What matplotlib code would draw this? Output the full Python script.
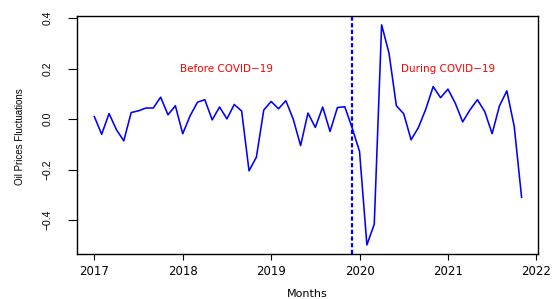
import matplotlib
matplotlib.use("Agg")
import matplotlib.pyplot as plt
import numpy as np

start_year = 2017
values = [0.010, -0.060, 0.022, -0.042, -0.086, 0.026, 0.033, 0.044, 0.044, 0.087, 0.017, 0.053,
          -0.058, 0.013, 0.067, 0.077, -0.003, 0.048, 0.001, 0.058, 0.032, -0.205, -0.151, 0.036,
          0.070, 0.041, 0.073, 0.000, -0.105, 0.024, -0.033, 0.048, -0.049, 0.046, 0.049, -0.035,
          -0.128, -0.499, -0.417, 0.374, 0.262, 0.053, 0.021, -0.082, -0.033, 0.040, 0.129, 0.085,
          0.119, 0.063, -0.011, 0.037, 0.077, 0.030, -0.058, 0.053, 0.112, -0.029, -0.310]
covid_line = 2019 + 11 / 12
xticks = [2017, 2018, 2019, 2020, 2021, 2022]
yticks = [-0.4, -0.2, 0.0, 0.2, 0.4]
ytick_labels = ["-0.4", "-0.2", "0.0", "0.2", "0.4"]
annotations = [("Before COVID\u221219", 2018.5, 0.2), ("During COVID\u221219", 2021.0, 0.2)]

t = start_year + np.arange(len(values)) / 12.0

fig = plt.figure(figsize=(5.6, 2.99), dpi=100)
ax = fig.add_axes([77 / 560, 1 - 254 / 299, (538 - 77) / 560, (254 - 16) / 299])
ax.plot(t, values, color="#0000ff", lw=1.15)
ax.axvline(covid_line, color="#0000ff", lw=1.6, linestyle=(0, (1.9, 1.1)))
for txt, x, y in annotations:
    ax.text(x, y, txt, color="#ff0000", fontsize=7.5, ha="center", va="center",
            family="DejaVu Sans")

ax.set_xlim(2016.804, 2022.019)
ax.set_ylim(-0.535, 0.409)
ax.set_xticks(xticks)
ax.set_xticklabels([str(x) for x in xticks], family="DejaVu Sans", fontsize=8.5)
ax.set_yticks(yticks)
ax.set_yticklabels([s.replace("-", "\u2212") for s in ytick_labels], family="Liberation Sans",
                   fontsize=7.5, rotation=90, va="center")
ax.tick_params(axis="x", length=4, width=0.8, color="black", pad=4)
ax.tick_params(axis="y", length=6.5, width=0.8, color="black", pad=11)
for s in ax.spines.values():
    s.set_linewidth(1.0)
fig.text(307 / 560, 1 - 294 / 299, "Months", family="DejaVu Sans", fontsize=8,
         ha="center", va="center")
fig.text(20 / 560, 1 - 137 / 299, "Oil Prices Fluctuations", family="Liberation Sans",
         fontsize=7, rotation=90, ha="center", va="center")

fig.savefig("out.png", dpi=100)
